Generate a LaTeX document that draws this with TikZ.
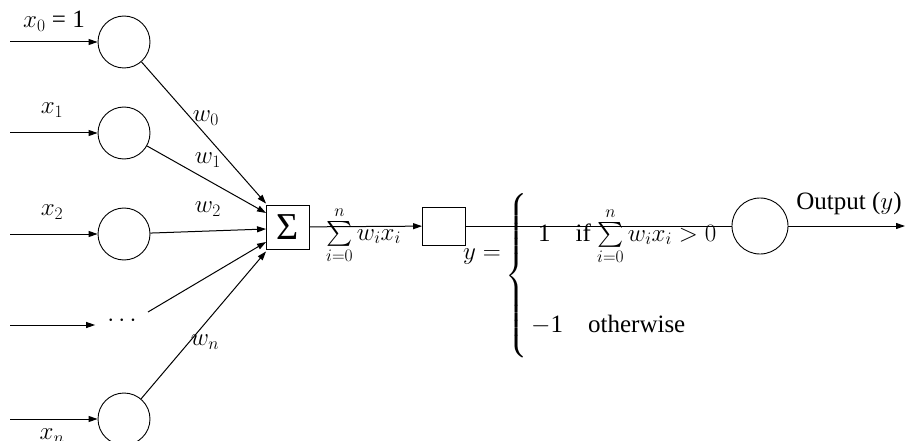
\RequirePackage{fix-cm}
\documentclass[tikz,border=0pt]{standalone}
\usepackage{amsmath}
\usepackage{fontspec}
\setmainfont{Liberation Serif}
\usetikzlibrary{arrows.meta,calc}
\begin{document}
\begin{tikzpicture}[x=1pt,y=-1pt,
  every node/.style={font=\fontsize{25}{29}\selectfont},
  neuron/.style={draw,circle,minimum size=52pt,inner sep=0pt,line width=0.9pt},
  boxnode/.style={draw,rectangle,inner sep=0pt,line width=0.9pt},
  lbl/.style={inner sep=0pt},
  arr/.style={line width=1pt,-{Triangle[length=9pt,width=6pt]}},
  ln/.style={line width=1pt}]
\useasboundingbox (0,0) rectangle (905,441);
% input neurons
\node[neuron] (c0) at (124,42) {};
\node[neuron] (c1) at (124,133) {};
\node[neuron] (c2) at (124,234) {};
\node[lbl] (dots) at (124,321) {$\cdots$};
\node[neuron] (cn) at (124,419) {};
% input arrow starts
\coordinate (s0) at (10,42);
\coordinate (s1) at (10,133);
\coordinate (s2) at (10,234);
\coordinate (s3) at (10,325);
\coordinate (sn) at (10,419);
\draw[arr] (s0) -- (c0);
\draw[arr] (s1) -- (c1);
\draw[arr] (s2) -- (c2);
\draw[arr] (s3) -- ($(dots.west)+(-12,4)$);
\draw[arr] (sn) -- (cn);
% input labels
\node[lbl] (lx0) at (54,21) {$x_0$ = 1};
\node[lbl] (lx1) at (52,110) {$x_1$};
\node[lbl] (lx2) at (52,212) {$x_2$};
\node[lbl] (lxn) at (52,436) {$x_n$};
% sum box
\node[boxnode,minimum width=43pt,minimum height=44pt] (sum) at (288,227) {\fontsize{38}{40}\selectfont Σ};
\coordinate (d3) at (148,312);
\draw[arr] (c0) -- ($(sum.north west)+(0,-1)$);
\draw[arr] (c1) -- ($(sum.west)+(0,-14)$);
\draw[arr] (c2) -- ($(sum.west)+(0,2)$);
\draw[arr] (d3) -- ($(sum.west)+(0,15)$);
\draw[arr] (cn) -- ($(sum.south west)+(0,2)$);
% weights
\node[lbl] (w0) at (206,118) {$w_0$};
\node[lbl] (w1) at (208,160) {$w_1$};
\node[lbl] (w2) at (208,209) {$w_2$};
\node[lbl] (wn) at (205,342) {$w_n$};
% activation box
\node[boxnode,minimum width=43pt,minimum height=38pt] (act) at (444,226) {};
\draw[arr] (sum) -- (act);
\node[lbl,anchor=base west] (sumtxt) at (326,240) {$\sum\limits_{i=0}^{n} w_i x_i$};
% output neuron
\node[neuron,minimum size=56pt] (out) at (760,226) {};
\draw[ln] (act) -- (out);
\coordinate (oend) at (905,226);
\draw[arr] (out) -- (oend);
\node[lbl] (otxt) at (849,203) {Output ($y$)};
% activation function
\node[lbl,anchor=base west] (yeq) at (463,259) {$y =$};
\node[lbl] (brace) at (517,276) {$\left\{\vrule height 72pt depth 72pt width 0pt\right.$};
\node[lbl,anchor=base west] (case1) at (538,241) {1\quad if $\sum\limits_{i=0}^{n} w_i x_i > 0$};
\node[lbl,anchor=base west] (case2) at (531,332) {$-$1\quad otherwise};
\end{tikzpicture}
\end{document}
